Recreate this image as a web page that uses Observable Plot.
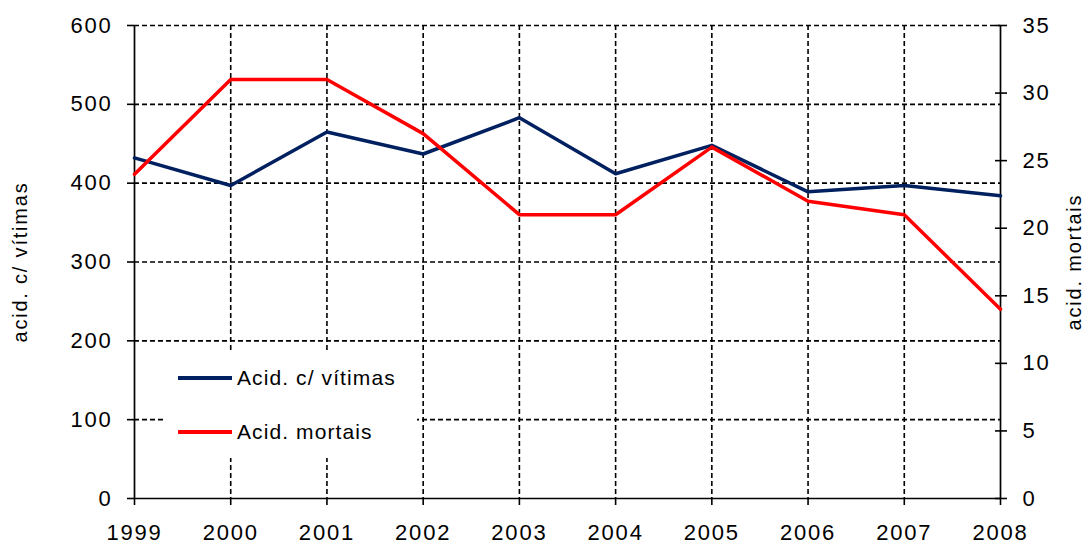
<!DOCTYPE html>
<html>
<head>
<meta charset="utf-8">
<script src="https://cdn.jsdelivr.net/npm/d3@7"></script>
<script src="https://cdn.jsdelivr.net/npm/@observablehq/plot@0.6"></script>
<style>
  body { margin: 0; background: #fff; }
  #wrap { position: relative; width: 1083px; height: 549px; }
  #legend {
    position: absolute; left: 163px; top: 352px; width: 254px; height: 106px;
    background: #fff; font-family: "Liberation Sans", Arial, sans-serif; font-size: 21px;
    letter-spacing: 1.1px; color: #000;
  }
  .item { position: absolute; left: 15px; display: flex; align-items: center; }
  .sw { width: 54px; height: 3.5px; margin-right: 5px; }
</style>
</head>
<body>
<div id="wrap"></div>
<script>
const years = [1999, 2000, 2001, 2002, 2003, 2004, 2005, 2006, 2007, 2008];
const vitimas = [432, 397, 465, 437, 483, 412, 448, 389, 397, 384];
const mortais = [24, 31, 31, 27, 21, 21, 26, 22, 21, 14];
const leftTicks = [0, 100, 200, 300, 400, 500, 600];
const rightTicks = [0, 5, 10, 15, 20, 25, 30, 35];
const seriesNames = ["Acid. c/ vítimas", "Acid. mortais"];
const colors = ["#002060", "#ff0000"];

const k = 600 / 35;
const rowsV = years.map((y, i) => ({ year: y, value: vitimas[i] }));
const rowsM = years.map((y, i) => ({ year: y, value: mortais[i] * k }));

const dash = { stroke: "black", strokeDasharray: "5,3", strokeWidth: 1.6 };
const tickFont = { fontSize: 22, fill: "black" };

const chart = Plot.plot({
  width: 1083,
  height: 549,
  marginLeft: 134,
  marginRight: 83,
  marginTop: 25,
  marginBottom: 51,
  style: { fontFamily: "'Liberation Sans', Arial, sans-serif", fontSize: "22px", letterSpacing: "1.8px", color: "#000", background: "#fff" },
  x: { domain: [1999, 2008] },
  y: { domain: [0, 600] },
  marks: [
    Plot.ruleY(leftTicks.slice(1), dash),
    Plot.ruleX(years.slice(1, -1), dash),
    Plot.ruleX([years[0], years[years.length - 1]], { stroke: "black", strokeWidth: 1.7 }),
    Plot.ruleY([0], { stroke: "black", strokeWidth: 1.7 }),
    Plot.line(rowsV, { x: "year", y: "value", stroke: colors[0], strokeWidth: 3.5 }),
    Plot.line(rowsM, { x: "year", y: "value", stroke: colors[1], strokeWidth: 3.5 }),
    Plot.axisX(years, { ...tickFont, tickFormat: d => String(d), tickSize: 7, tickPadding: 19, strokeWidth: 1.6, label: null }),
    Plot.axisY(leftTicks, { ...tickFont, anchor: "left", tickSize: 7, tickPadding: 15, strokeWidth: 1.6, label: null }),
    Plot.axisY({ anchor: "left", ticks: [], label: "acid. c/ vítimas", labelAnchor: "center", labelArrow: "none", labelOffset: 122, fontSize: 20, letterSpacing: 0.8, fill: "black" }),
    Plot.axisY(rightTicks.map(t => t * k), { anchor: "right", tickSize: 12, dx: -6, text: null, strokeWidth: 1.6, label: null }),
    Plot.axisY(rightTicks.map(t => t * k), { ...tickFont, anchor: "right", tickSize: 0, tickPadding: 22, strokeWidth: 0, tickFormat: d => String(Math.round(d / k)), label: null }),
    Plot.axisY({ anchor: "right", ticks: [], label: "acid. mortais", labelAnchor: "center", labelArrow: "none", labelOffset: 80, fontSize: 20, letterSpacing: 1, fill: "black" })
  ]
});

const wrap = document.getElementById("wrap");
wrap.appendChild(chart);
const legend = document.createElement("div");
legend.id = "legend";
seriesNames.forEach((name, i) => {
  const it = document.createElement("div");
  it.className = "item";
  it.style.top = (i === 0 ? 14 : 68) + "px";
  const sw = document.createElement("div");
  sw.className = "sw";
  sw.style.background = colors[i];
  const tx = document.createElement("span");
  tx.textContent = name;
  it.appendChild(sw);
  it.appendChild(tx);
  legend.appendChild(it);
});
wrap.appendChild(legend);
</script>
</body>
</html>
